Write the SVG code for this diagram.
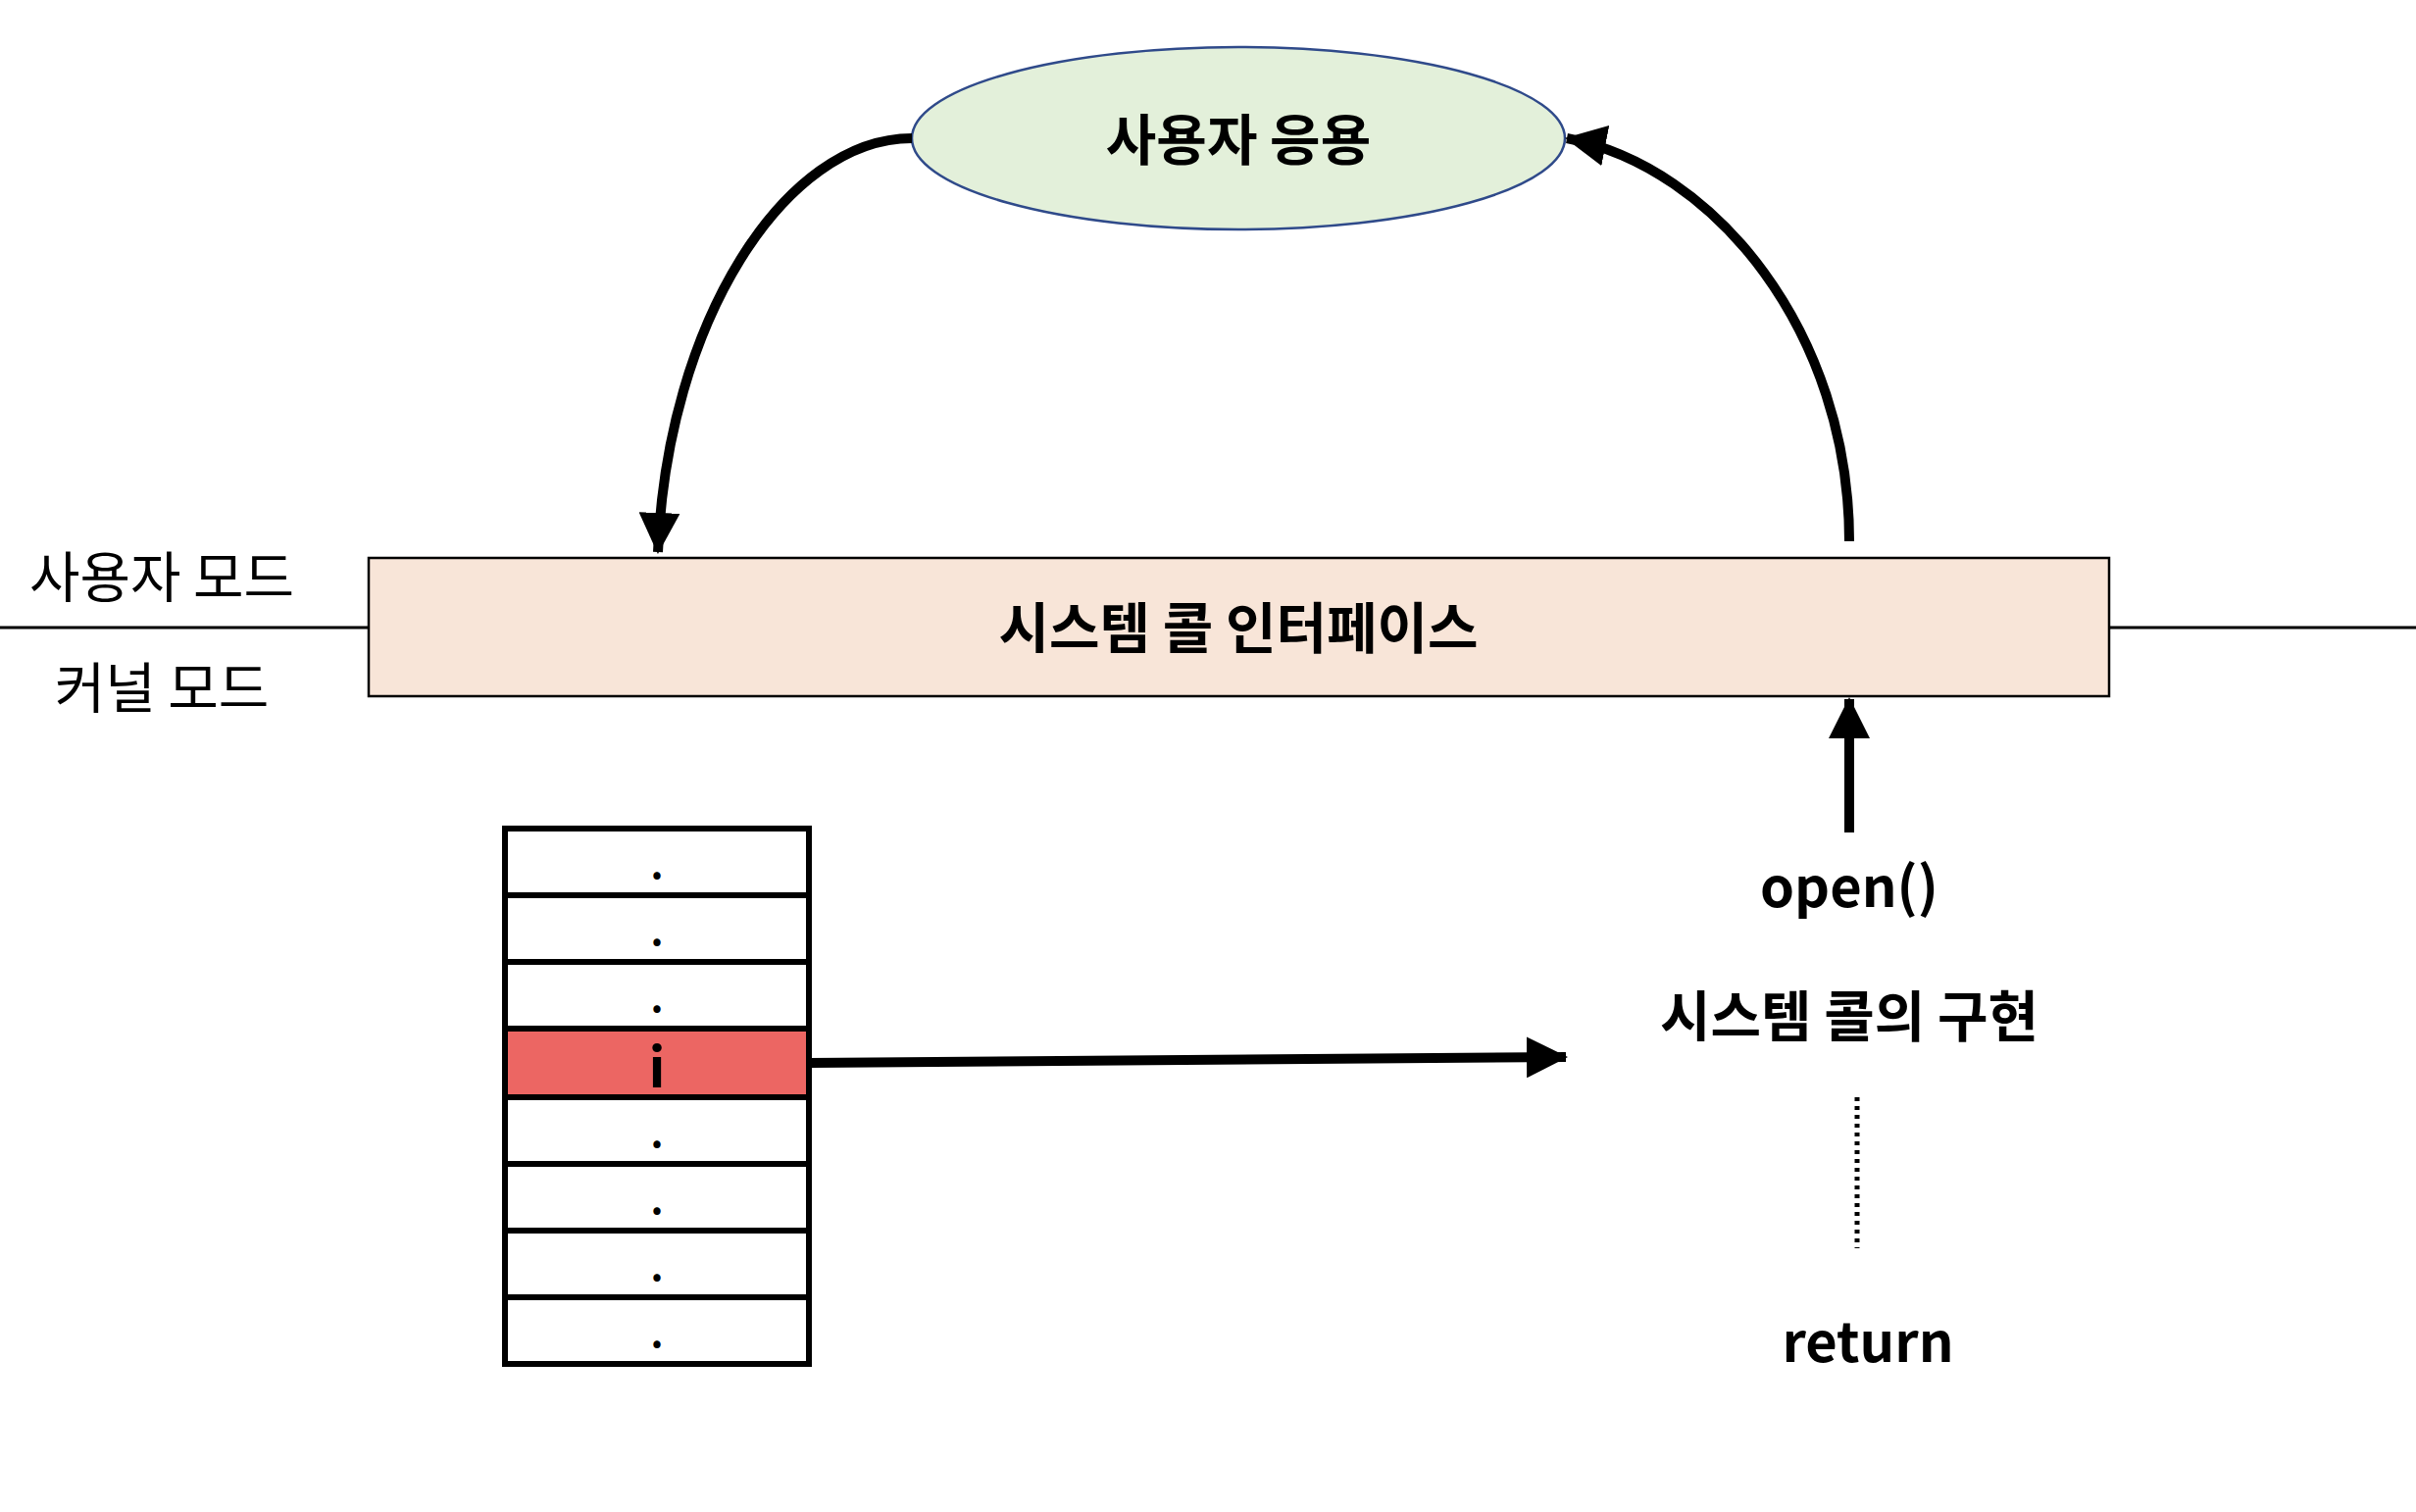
<svg xmlns="http://www.w3.org/2000/svg" width="2464" height="1542" viewBox="0 0 2464 1542">
<defs>
<style>
text{font-family:"Noto Sans CJK KR","Noto Sans",sans-serif;fill:#000;text-anchor:middle;dominant-baseline:central}
.b{font-weight:bold;font-size:56px}
.n{font-size:56px}
.d{font-weight:bold;font-size:40px}
.cell{fill:#fff;stroke:#000;stroke-width:6}
.conn{fill:none;stroke:#000;stroke-width:10}
</style>
<marker id="ah" markerWidth="4.2" markerHeight="4.2" refX="4" refY="2.1" orient="auto" markerUnits="strokeWidth">
<path d="M0,0 L4.2,2.1 L0,4.2 z" fill="#000"/>
</marker>
</defs>
<rect width="2464" height="1542" fill="#fff"/>
<g id="mode-line">
<line x1="0" y1="640" x2="376" y2="640" stroke="#000" stroke-width="3"/>
<line x1="2151" y1="640" x2="2464" y2="640" stroke="#000" stroke-width="3"/>
<text class="n" x="165" y="584">사용자 모드</text>
<text class="n" x="165" y="697">커널 모드</text>
</g>
<g id="user-app">
<ellipse cx="1263" cy="141" rx="333" ry="93" fill="#e3f0da" stroke="#2f4a8a" stroke-width="2.5"/>
<text class="b" x="1263" y="138">사용자 응용</text>
</g>
<g id="syscall-interface">
<rect x="376" y="569" width="1775" height="141" fill="#f8e5d8" stroke="#000" stroke-width="2.5"/>
<text class="b" x="1263" y="636">시스템 콜 인터페이스</text>
</g>
<g id="table">
<rect class="cell" x="515" y="845" width="310" height="68"/>
<rect class="cell" x="515" y="913" width="310" height="68"/>
<rect class="cell" x="515" y="981" width="310" height="68"/>
<rect class="cell" x="515" y="1049" width="310" height="70" style="fill:#ec6663"/>
<rect class="cell" x="515" y="1119" width="310" height="68"/>
<rect class="cell" x="515" y="1187" width="310" height="68"/>
<rect class="cell" x="515" y="1255" width="310" height="68"/>
<rect class="cell" x="515" y="1323" width="310" height="68"/>
<text class="d" x="670" y="879">.</text>
<text class="d" x="670" y="947">.</text>
<text class="d" x="670" y="1015">.</text>
<text class="b" x="670" y="1084">i</text>
<text class="d" x="670" y="1153">.</text>
<text class="d" x="670" y="1221">.</text>
<text class="d" x="670" y="1289">.</text>
<text class="d" x="670" y="1357">.</text>
</g>
<g id="implementation">
<text class="b" x="1886" y="900">open()</text>
<text class="b" x="1886" y="1032">시스템 콜의 구현</text>
<line x1="1894" y1="1119" x2="1894" y2="1273" stroke="#000" stroke-width="5" stroke-dasharray="4,5"/>
<text class="b" x="1905" y="1364">return</text>
</g>
<g id="connectors">
<path class="conn" d="M930,141 C800,141 680,330 671,563" marker-end="url(#ah)"/>
<path class="conn" d="M1886,552 C1886,340 1750,170 1598,141" marker-end="url(#ah)"/>
<line class="conn" x1="1886" y1="849" x2="1886" y2="713" marker-end="url(#ah)"/>
<line class="conn" x1="825" y1="1084" x2="1597" y2="1078" marker-end="url(#ah)"/>
</g>
</svg>
